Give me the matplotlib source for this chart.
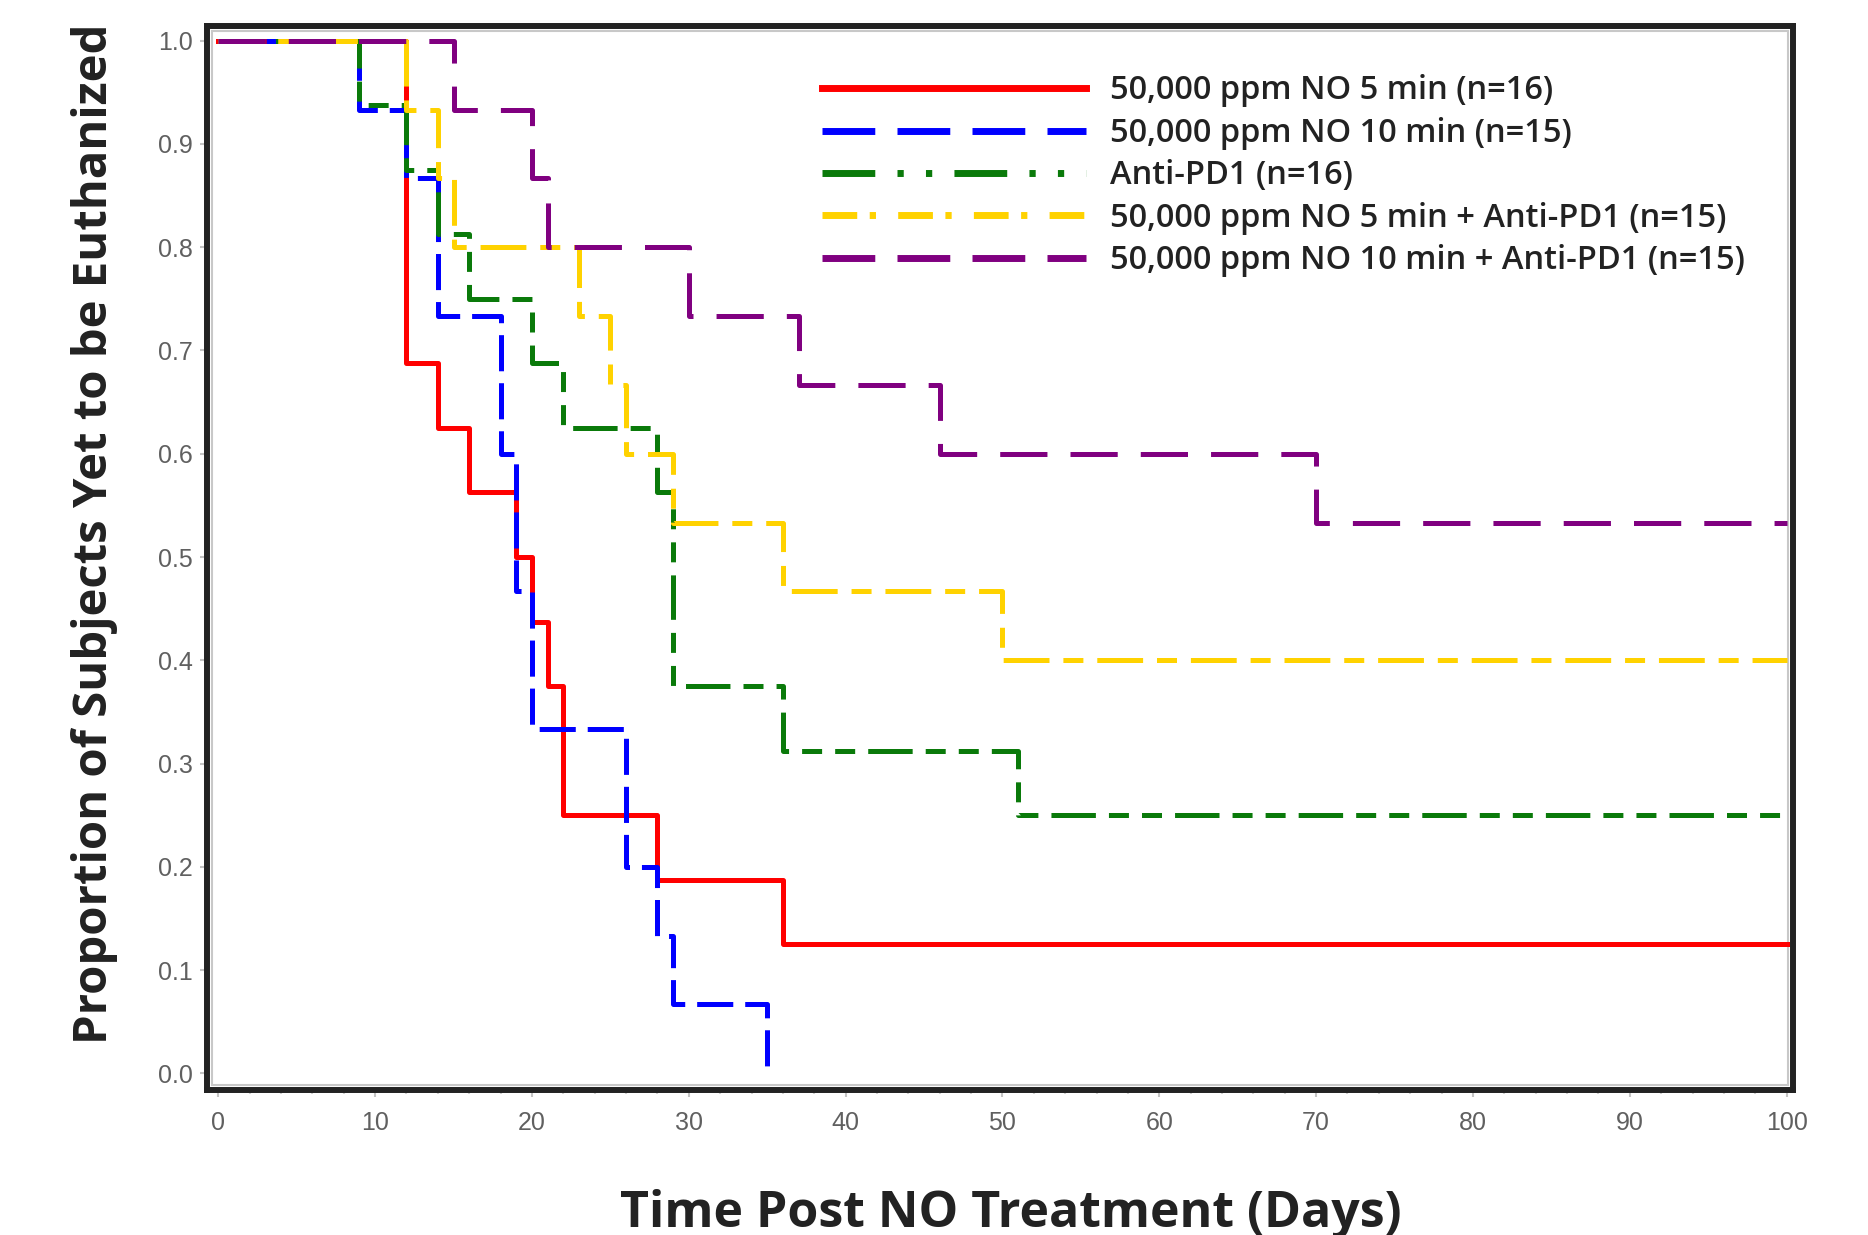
import numpy as np
import matplotlib
matplotlib.use('Agg')
import matplotlib.pyplot as plt
from matplotlib.lines import Line2D
from matplotlib.patches import Rectangle
from matplotlib.ticker import MultipleLocator

plt.rcParams['lines.scale_dashes'] = False

# Kaplan-Meier steps (time in days, proportion remaining)
red_t = [0, 12, 14, 16, 19, 20, 21, 22, 28, 36, 100]
red_s = [1.0, 0.6875, 0.625, 0.5625, 0.5, 0.4375, 0.375, 0.25, 0.1875, 0.125, 0.125]

blue_t = [0, 9, 12, 14, 18, 19, 20, 26, 28, 29, 35]
blue_s = [1.0, 0.9333, 0.8667, 0.7333, 0.6, 0.4667, 0.3333, 0.2, 0.1333, 0.0667, 0.0]

green_t = [0, 9, 12, 14, 16, 20, 22, 28, 29, 36, 51, 100]
green_s = [1.0, 0.9375, 0.875, 0.8125, 0.75, 0.6875, 0.625, 0.5625, 0.375, 0.3125, 0.25, 0.25]

yellow_t = [0, 12, 14, 15, 23, 25, 26, 29, 36, 50, 100]
yellow_s = [1.0, 0.9333, 0.8667, 0.8, 0.7333, 0.6667, 0.6, 0.5333, 0.4667, 0.4, 0.4]

purple_t = [0, 15, 20, 21, 30, 37, 46, 70, 100]
purple_s = [1.0, 0.9333, 0.8667, 0.8, 0.7333, 0.6667, 0.6, 0.5333, 0.5333]

labels = ['50,000 ppm NO 5 min (n=16)',
          '50,000 ppm NO 10 min (n=15)',
          'Anti-PD1 (n=16)',
          '50,000 ppm NO 5 min + Anti-PD1 (n=15)',
          '50,000 ppm NO 10 min + Anti-PD1 (n=15)']

colors = ['#ff0000', '#0000ff', '#0a7a0a', '#ffd200', '#800080']
# dash patterns in points, curve and legend differ like in the original
plot_dash = [None, (26, 8.6), (32, 9.4, 14.4, 9.4, 14.4, 9.4), (33, 10, 14.4, 10), (34, 16.6)]
leg_dash = [None, (38, 16), (38, 16, 4.5, 16, 4.5, 16), (25, 9, 4.5, 16), (38, 16)]

fig = plt.figure(figsize=(18.68, 12.35), dpi=100)
ax = fig.add_axes([0.1108, 0.1174, 0.8490, 0.8615])

series = [(red_t, red_s), (blue_t, blue_s), (green_t, green_s),
          (yellow_t, yellow_s), (purple_t, purple_s)]
for (t, s), c, d in zip(series, colors, plot_dash):
    ln, = ax.plot(t, s, drawstyle='steps-post', color=c, lw=3.6)
    if d is not None:
        ln.set_dashes(d)
        ln.set_dash_capstyle('butt')

ax.set_xlim(-0.72, 100.4)
ax.set_ylim(-0.0162, 1.0142)
ax.xaxis.set_major_locator(MultipleLocator(10))
ax.xaxis.set_minor_locator(MultipleLocator(2))
ax.yaxis.set_major_locator(MultipleLocator(0.1))
ax.yaxis.set_major_formatter(lambda v, p: '%.1f' % v)

for sp in ax.spines.values():
    sp.set_linewidth(4.3)
    sp.set_color('#222222')
# thin light frame just inside the black box
dx, dy = 5 / 1586, 5 / 1064
ax.add_patch(Rectangle((dx, dy), 1 - 2 * dx, 1 - 2 * dy, transform=ax.transAxes,
                       fill=False, ec='#c8c8c8', lw=1.5, zorder=0.5))

ax.tick_params(which='major', length=5, width=1.5, color='#c4c4c4',
               labelsize=18, labelcolor='#606060')
ax.tick_params(axis='x', which='major', pad=10)
ax.tick_params(axis='y', which='major', pad=5)
ax.tick_params(which='minor', length=3, width=1.5, color='#d0d0d0')
for lab in ax.get_xticklabels() + ax.get_yticklabels():
    lab.set_family('Liberation Sans')

fig.text(0.541, 0.0068, 'Time Post NO Treatment (Days)', family='Open Sans', fontsize=36,
         fontweight='bold', color='#222222', ha='center', va='baseline')
fig.text(0.0508, 0.568, 'Proportion of Subjects Yet to be Euthanized', family='Open Sans',
         fontsize=34, fontweight='bold', color='#222222', rotation=90,
         ha='center', va='center')

handles = []
for c, d in zip(colors, leg_dash):
    h = Line2D([], [], color=c, lw=5)
    if d is not None:
        h.set_dashes(d)
        h.set_dash_capstyle('butt')
    handles.append(h)

ax.legend(handles, labels, loc='upper left', bbox_to_anchor=(0.3875, 0.9545),
          frameon=False, handlelength=8.1, handletextpad=0.74, labelspacing=0.29,
          borderpad=0, borderaxespad=0,
          prop={'family': 'Open Sans', 'size': 23.5, 'weight': 'semibold'},
          labelcolor='#222222')

fig.savefig('out.png', dpi=100)
